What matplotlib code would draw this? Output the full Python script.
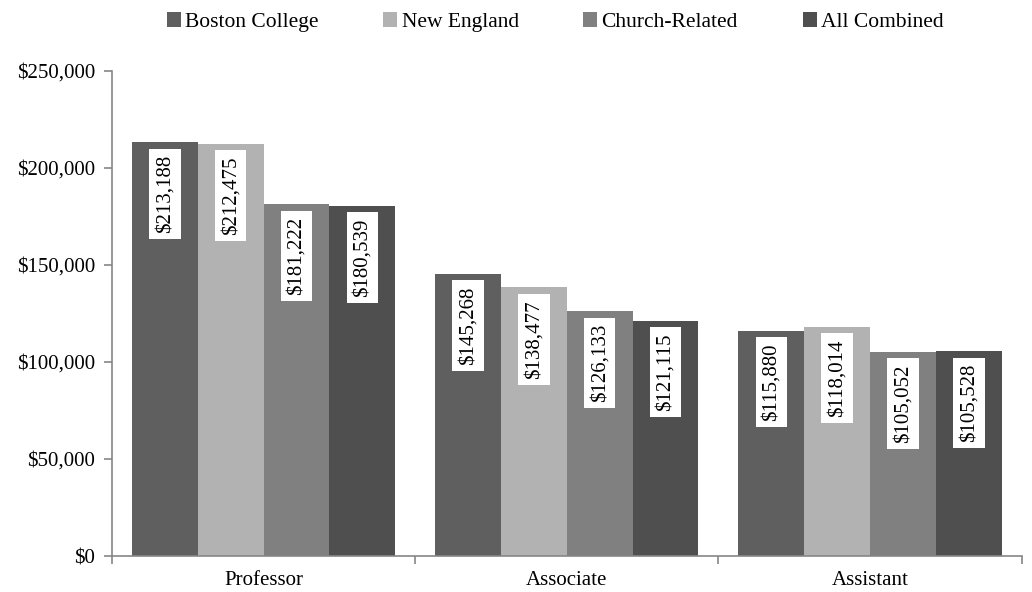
import matplotlib.pyplot as plt
import numpy as np

categories = ['Professor', 'Associate', 'Assistant']
series = ['Boston College', 'New England', 'Church-Related', 'All Combined']
boston = [213188, 145268, 115880]
new_england = [212475, 138477, 118014]
church = [181222, 126133, 105052]
combined = [180539, 121115, 105528]
colors = ['#5f5f5f', '#b2b2b2', '#808080', '#4f4f4f']

plt.rcParams['font.family'] = ['Liberation Serif', 'DejaVu Serif']

fig = plt.figure(figsize=(10.32, 5.92), dpi=100)
ax = fig.add_axes([0.1085, 0.0608, 0.8815, 0.8192])

x = np.arange(len(categories))
w = 0.217
for i, (name, vals) in enumerate(zip(series, [boston, new_england, church, combined])):
    xs = x + (i - 1.5) * w
    ax.bar(xs, vals, width=w, color=colors[i], label=name, zorder=2)
    for xi, v in zip(xs, vals):
        ax.annotate(f'${v:,}', (xi, v), xytext=(0, -9), textcoords='offset points',
                    rotation=90, ha='center', va='top', fontsize=15, zorder=3,
                    bbox=dict(boxstyle='square,pad=0.3', fc='white', ec='none'))

ax.set_xlim(-0.5, 2.5)
ax.set_ylim(0, 250000)
ax.set_yticks(np.arange(0, 250001, 50000))
ax.set_yticklabels([f'${v:,}' for v in range(0, 250001, 50000)])
ax.set_xticks(x)
ax.set_xticklabels(categories)
ax.set_xticks([-0.5, 0.5, 1.5, 2.5], minor=True)
ax.tick_params(axis='x', which='major', length=0, pad=11)
ax.tick_params(axis='x', which='minor', length=6, color='#868686', width=1.2)
ax.tick_params(axis='y', length=6, color='#868686', width=1.2, pad=6)
ax.tick_params(labelsize=15)
for s in ['top', 'right']:
    ax.spines[s].set_visible(False)
for s in ['left', 'bottom']:
    ax.spines[s].set_color('#868686')
    ax.spines[s].set_linewidth(1.2)

fig.legend(loc='upper center', bbox_to_anchor=(0.538, 1.012), ncol=4, frameon=False,
           fontsize=15.5, handlelength=0.65, handleheight=0.65, handletextpad=0.2,
           columnspacing=3.0)

fig.savefig('out.png', dpi=100)
